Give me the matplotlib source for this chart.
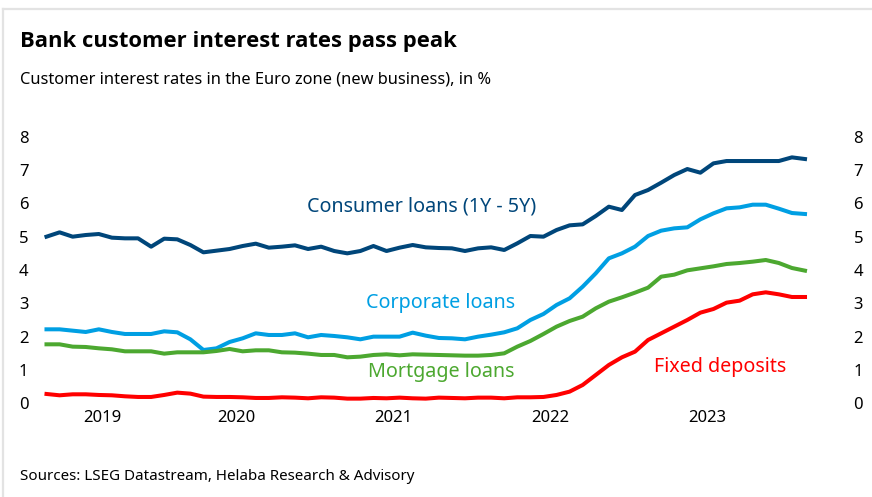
import numpy as np
import matplotlib
matplotlib.use("Agg")
import matplotlib.pyplot as plt
from matplotlib.lines import Line2D

plt.rcParams['font.family'] = ['Noto Sans', 'DejaVu Sans']

# Monthly data, April 2019 to February 2024
start_year, start_month = 2019, 4
consumer = [5.00, 5.13, 5.00, 5.05, 5.08, 4.97, 4.95, 4.95, 4.70, 4.94,
            4.92, 4.75, 4.53, 4.58, 4.63, 4.72, 4.79, 4.67, 4.70, 4.74,
            4.63, 4.70, 4.57, 4.50, 4.57, 4.72, 4.57, 4.67, 4.75, 4.68,
            4.66, 4.65, 4.57, 4.65, 4.68, 4.60, 4.80, 5.02, 5.00, 5.20,
            5.34, 5.37, 5.62, 5.90, 5.80, 6.25, 6.40, 6.62, 6.85, 7.03,
            6.92, 7.20, 7.27, 7.27, 7.27, 7.27, 7.27, 7.38, 7.33]
corporate = [2.22, 2.22, 2.18, 2.14, 2.22, 2.14, 2.08, 2.08, 2.08, 2.16,
             2.13, 1.92, 1.60, 1.65, 1.84, 1.95, 2.10, 2.05, 2.05, 2.10,
             1.98, 2.05, 2.02, 1.98, 1.92, 2.00, 2.00, 2.00, 2.12, 2.03,
             1.96, 1.95, 1.92, 2.00, 2.06, 2.13, 2.25, 2.50, 2.68, 2.95,
             3.15, 3.50, 3.90, 4.35, 4.50, 4.70, 5.02, 5.18, 5.25, 5.28,
             5.52, 5.70, 5.85, 5.88, 5.96, 5.96, 5.84, 5.71, 5.68]
mortgage = [1.77, 1.77, 1.70, 1.69, 1.65, 1.62, 1.56, 1.56, 1.56, 1.49,
            1.53, 1.53, 1.53, 1.57, 1.63, 1.56, 1.59, 1.59, 1.53, 1.52,
            1.49, 1.45, 1.45, 1.38, 1.40, 1.45, 1.47, 1.44, 1.47, 1.46,
            1.45, 1.44, 1.43, 1.43, 1.45, 1.50, 1.70, 1.87, 2.08, 2.30,
            2.47, 2.60, 2.85, 3.05, 3.18, 3.32, 3.47, 3.80, 3.86, 3.99,
            4.05, 4.11, 4.18, 4.21, 4.25, 4.30, 4.21, 4.06, 3.98]
fixed = [0.28, 0.24, 0.27, 0.27, 0.25, 0.24, 0.21, 0.19, 0.19, 0.25,
         0.32, 0.29, 0.20, 0.19, 0.19, 0.18, 0.16, 0.16, 0.18, 0.17,
         0.15, 0.18, 0.17, 0.14, 0.14, 0.16, 0.15, 0.17, 0.15, 0.14,
         0.17, 0.16, 0.15, 0.17, 0.17, 0.15, 0.18, 0.18, 0.19, 0.25,
         0.35, 0.55, 0.85, 1.15, 1.38, 1.55, 1.90, 2.10, 2.30, 2.50,
         2.72, 2.83, 3.02, 3.08, 3.27, 3.33, 3.27, 3.19, 3.19]

series_names = ["Consumer loans (1Y - 5Y)", "Corporate loans", "Mortgage loans", "Fixed deposits"]
colors = ["#00467A", "#009FE3", "#4CA830", "#FF0000"]
y_ticks = [0, 1, 2, 3, 4, 5, 6, 7, 8]
year_labels = ["2019", "2020", "2021", "2022", "2023"]

n = len(consumer)
x = np.arange(n)

W, H = 872, 497
fig = plt.figure(figsize=(W / 100, H / 100), dpi=100)
fig.patch.set_facecolor("white")

# frame lines (top and left)
fig.add_artist(Line2D([3 / W, 1], [1 - 9 / H, 1 - 9 / H], color="#e3e3e3", lw=1.6,
                      transform=fig.transFigure))
fig.add_artist(Line2D([3 / W, 3 / W], [0, 1 - 9 / H], color="#e3e3e3", lw=1.6,
                      transform=fig.transFigure))

left_px, right_px = 46.5, 805.0
top_px, bottom_px = 136.7, 403.3
ax = fig.add_axes([left_px / W, 1 - bottom_px / H, (right_px - left_px) / W,
                   (bottom_px - top_px) / H])
ax.set_xlim(0, n - 1)
ax.set_ylim(0, 8)

for vals, c in zip([consumer, corporate, mortgage, fixed], colors):
    ax.plot(x, vals, color=c, lw=2.9, solid_joinstyle="round", clip_on=False)

for s in ax.spines.values():
    s.set_visible(False)

# year labels centred on the visible part of each year
yr_pos = []
for lab in year_labels:
    y = int(lab)
    a = (y - start_year) * 12 - (start_month - 1) - 0.5
    b = a + 12
    a, b = max(a, 0), min(b, n - 1)
    yr_pos.append((a + b) / 2)
ax.set_xticks(yr_pos)
ax.set_xticklabels(year_labels, fontsize=12)
ax.tick_params(axis="x", length=0, pad=5)

ax.set_yticks(y_ticks)
ax.set_yticklabels([str(v) for v in y_ticks], fontsize=12)
ax.tick_params(axis="y", length=0, pad=13)

ax2 = ax.twinx()
ax2.set_ylim(0, 8)
ax2.set_yticks(y_ticks)
ax2.set_yticklabels([str(v) for v in y_ticks], fontsize=12, ha="left")
ax2.tick_params(axis="y", length=0, pad=35)
for s in ax2.spines.values():
    s.set_visible(False)

# series labels
lab_fs = 14.2
ax.text(28.7, 5.9, series_names[0], color=colors[0], fontsize=lab_fs, ha="center", va="center")
ax.text(30.1, 3.0, series_names[1], color=colors[1], fontsize=lab_fs, ha="center", va="center")
ax.text(30.2, 0.93, series_names[2], color=colors[2], fontsize=lab_fs, ha="center", va="center")
ax.text(51.5, 1.08, series_names[3], color=colors[3], fontsize=lab_fs, ha="center", va="center")

fig.text(20 / W, 1 - 42 / H, "Bank customer interest rates pass peak", fontsize=15.8,
         fontweight="bold", family=["Open Sans", "Lato", "DejaVu Sans"], ha="left", va="center")
fig.text(20 / W, 1 - 80 / H, "Customer interest rates in the Euro zone (new business), in %",
         fontsize=11.8, ha="left", va="center")
fig.text(20 / W, 1 - 476.5 / H, "Sources: LSEG Datastream, Helaba Research & Advisory",
         fontsize=10.9, ha="left", va="center")

fig.savefig("out.png", dpi=100)
